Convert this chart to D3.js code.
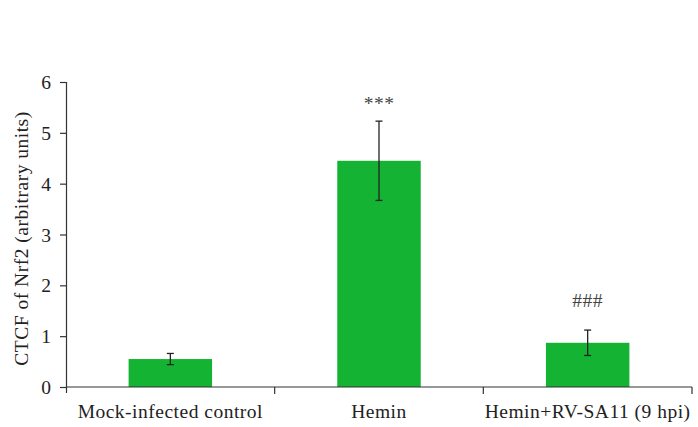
<!DOCTYPE html>
<html><head><meta charset="utf-8">
<script src="https://cdn.jsdelivr.net/npm/d3@7"></script>
<style>body{margin:0;background:#fff}svg text{font-family:"Liberation Serif","DejaVu Serif",serif}</style>
</head><body>
<svg id="c" width="698" height="427"></svg>
<script>
const categories = ["Mock-infected control","Hemin","Hemin+RV-SA11 (9 hpi)"];
const values = [0.55, 4.45, 0.87];
const errors = [0.11, 0.78, 0.25];
const marks = ["", "***", "###"];
const yTicks = [0,1,2,3,4,5,6];

const svg = d3.select("#c");
const m = {l:66, r:6, t:82, b:40};
const W = 698, H = 427;
const FS = 19.5, LS = "0.5px";
const x = d3.scaleBand().domain(categories).range([m.l, W-m.r]).paddingInner(0.6).paddingOuter(0.3);
const xb = d3.scaleBand().domain(categories).range([m.l, W-m.r]);
const y = d3.scaleLinear().domain([0,6]).range([H-m.b, m.t]);
const col = "#333";

svg.selectAll("rect.bar").data(values).join("rect")
  .attr("x",(d,i)=>x(categories[i])).attr("width",x.bandwidth())
  .attr("y",d=>y(d)).attr("height",d=>y(0)-y(d)).attr("fill","#14b334");

// error bars
const eg = svg.append("g").attr("stroke","#222").attr("stroke-width",1.3);
values.forEach((v,i)=>{
  const cx = x(categories[i])+x.bandwidth()/2;
  eg.append("line").attr("x1",cx).attr("x2",cx).attr("y1",y(v+errors[i])).attr("y2",y(v-errors[i]));
  [v+errors[i], v-errors[i]].forEach(e=>eg.append("line").attr("x1",cx-3.5).attr("x2",cx+3.5).attr("y1",y(e)).attr("y2",y(e)));
});

// significance marks
svg.selectAll("text.mk").data(marks).join("text")
  .attr("x",(d,i)=>x(categories[i])+x.bandwidth()/2)
  .attr("y",(d,i)=>y(values[i]+errors[i])-(i===1?11:23))
  .attr("text-anchor","middle").attr("font-size",FS).attr("letter-spacing",LS).attr("fill","#444").text(d=>d);

// y axis
const ya = svg.append("g").attr("transform",`translate(${m.l},0)`)
  .call(d3.axisLeft(y).tickValues(yTicks).tickFormat(d3.format("d")).tickSize(6).tickSizeOuter(0));
ya.selectAll("path,line").attr("stroke",col).attr("stroke-width",1.2);
ya.selectAll("text").attr("font-size",FS).attr("fill","#222").attr("x",-15).attr("dy","0.34em");
ya.select(".domain").attr("d",`M0.5,${y(6)}V${y(0)+6}`);

// x axis
const xa = svg.append("g").attr("transform",`translate(0,${y(0)})`);
xa.append("line").attr("x1",m.l).attr("x2",W-m.r).attr("stroke",col).attr("stroke-width",1.2);
[1,2,3].forEach(i=>{
  const px = i < 3 ? xb(categories[i]) : W-m.r;
  xa.append("line").attr("x1",px).attr("x2",px).attr("y1",0).attr("y2",7).attr("stroke",col).attr("stroke-width",1.2);
});
xa.selectAll("text").data(categories).join("text")
  .attr("x",d=>xb(d)+xb.bandwidth()/2).attr("y",31).attr("text-anchor","middle")
  .attr("font-size",FS).attr("letter-spacing",LS).attr("fill","#222").text(d=>d);

svg.append("text").attr("transform",`translate(28,${(y(0)+y(6))/2+4}) rotate(-90)`)
  .attr("text-anchor","middle").attr("font-size",FS).attr("letter-spacing",LS).attr("fill","#222").text("CTCF of Nrf2 (arbitrary units)");
</script>
</body></html>
